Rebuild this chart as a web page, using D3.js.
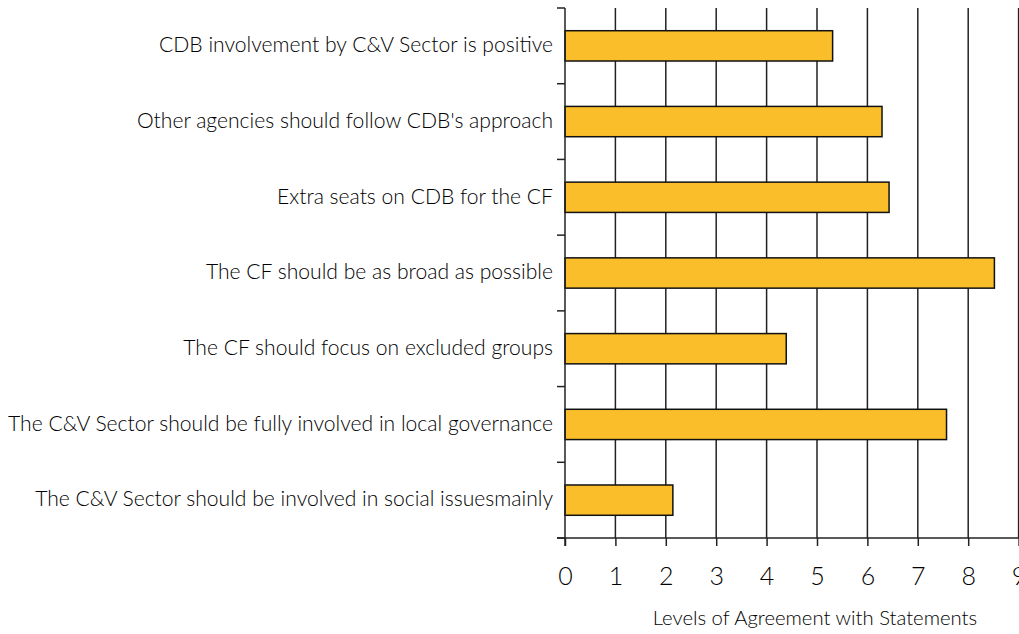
<!DOCTYPE html>
<html>
<head>
<meta charset="utf-8">
<script src="https://cdn.jsdelivr.net/npm/d3@7"></script>
<style>
  body { margin: 0; background: #fff; }
  svg { display: block; font-family: Lato, "DejaVu Sans", sans-serif; font-weight: 300; }
</style>
</head>
<body>
<div id="chart"></div>
<script>
// statements, top to bottom
const statements = [
  "CDB involvement by C&V Sector is positive",
  "Other agencies should follow CDB's approach",
  "Extra seats on CDB for the CF",
  "The CF should be as broad as possible",
  "The CF should focus on excluded groups",
  "The C&V Sector should be fully involved in local governance",
  "The C&V Sector should be involved in social issuesmainly"
];
const agreement = [5.31, 6.29, 6.43, 8.52, 4.39, 7.57, 2.14];
const xTicks = [0, 1, 2, 3, 4, 5, 6, 7, 8, 9];
const xTitle = "Levels of Agreement with Statements";

const W = 1019, H = 634;
const margin = { top: 8, left: 565, bottom: 96 };
const plotW = 9 * 50.4;
const plotH = H - margin.top - margin.bottom;

const svg = d3.select("#chart").append("svg")
  .attr("width", W).attr("height", H);

const x = d3.scaleLinear().domain([0, 9]).range([margin.left, margin.left + plotW]);
const y = d3.scaleBand().domain(statements)
  .range([margin.top, margin.top + plotH])
  .paddingInner(0.6).paddingOuter(0.3);

// gridlines
svg.append("g").selectAll("line")
  .data(xTicks.slice(1))
  .join("line")
  .attr("x1", d => x(d)).attr("x2", d => x(d))
  .attr("y1", margin.top).attr("y2", margin.top + plotH)
  .attr("stroke", "#222").attr("stroke-width", 1.5);

// bars
svg.append("g").selectAll("rect")
  .data(agreement)
  .join("rect")
  .attr("x", x(0))
  .attr("y", (d, i) => y(statements[i]))
  .attr("width", d => x(d) - x(0))
  .attr("height", y.bandwidth())
  .attr("fill", "#F9BE2A")
  .attr("stroke", "#111")
  .attr("stroke-width", 1.5);

// left axis with tick marks between categories
const yAxisG = svg.append("g");
yAxisG.append("line")
  .attr("x1", x(0)).attr("x2", x(0))
  .attr("y1", margin.top).attr("y2", margin.top + plotH + 8)
  .attr("stroke", "#222").attr("stroke-width", 1.5);
const step = plotH / statements.length;
yAxisG.selectAll("line.tick")
  .data(d3.range(statements.length + 1))
  .join("line").attr("class", "tick")
  .attr("x1", x(0) - 8).attr("x2", x(0))
  .attr("y1", d => margin.top + d * step).attr("y2", d => margin.top + d * step)
  .attr("stroke", "#222").attr("stroke-width", 1.5);
yAxisG.selectAll("text")
  .data(statements)
  .join("text")
  .attr("x", x(0) - 12)
  .attr("y", d => y(d) + y.bandwidth() / 2)
  .attr("dy", "0.3em")
  .attr("text-anchor", "end")
  .attr("font-size", 21.1)
  .attr("fill", "#000")
  .text(d => d);

// bottom axis
const xAxis = svg.append("g")
  .attr("transform", `translate(0,${margin.top + plotH})`)
  .call(d3.axisBottom(x).tickValues(xTicks).tickSize(8).tickPadding(21).tickFormat(d3.format("d")));
xAxis.select(".domain").remove();
xAxis.append("line")
  .attr("x1", x(0) - 8).attr("x2", W)
  .attr("stroke", "#222").attr("stroke-width", 1.5);
xAxis.selectAll(".tick line").attr("stroke", "#222").attr("stroke-width", 1.5);
xAxis.selectAll(".tick text")
  .attr("font-size", 25).attr("fill", "#000")
  .attr("font-family", "Lato, sans-serif");

svg.append("text")
  .attr("x", 815).attr("y", 625)
  .attr("text-anchor", "middle")
  .attr("font-size", 20.3)
  .attr("fill", "#000")
  .text(xTitle);
</script>
</body>
</html>
